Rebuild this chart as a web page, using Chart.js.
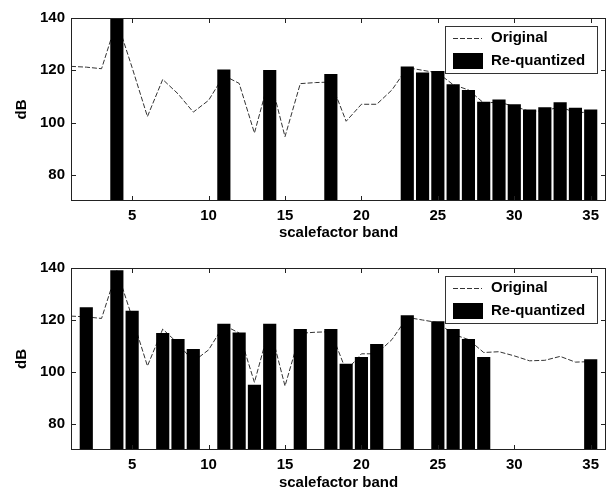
<!DOCTYPE html>
<html>
<head>
<meta charset="utf-8">
<script src="https://cdn.jsdelivr.net/npm/chart.js@4/dist/chart.umd.min.js"></script>
<style>
  body { margin: 0; background: #fff; }
  canvas { display: block; }
</style>
</head>
<body>
<canvas id="topChart" width="613" height="248"></canvas>
<canvas id="bottomChart" width="613" height="248"></canvas>
<script>
// scalefactor bands 1..35
var bands = [1, 2, 3, 4, 5, 6, 7, 8, 9, 10, 11, 12, 13, 14, 15, 16, 17, 18,
             19, 20, 21, 22, 23, 24, 25, 26, 27, 28, 29, 30, 31, 32, 33, 34, 35];

// original level (dB), same curve in both panels
var original = [121.5, 121.2, 120.6, 139, 121, 102.3, 116.5, 111, 104, 108.5, 118, 115,
                96, 117.5, 94.6, 114.9, 115.3, 115.5, 100.5, 107, 107, 112.5, 121, 120,
                119, 114.5, 112.5, 107.5, 107.8, 106.2, 104.3, 104.5, 106, 103.8, 104];

// re-quantized bands, top panel
var topBands = [4, 11, 14, 18, 23, 24, 25, 26, 27, 28, 29, 30, 31, 32, 33, 34, 35];
var topValues = [140, 120.2, 120, 118.5, 121.3, 119, 119.6, 114.5, 112.3, 107.8, 108.7,
                 106.9, 104.9, 105.7, 107.6, 105.5, 104.9];

// re-quantized bands, bottom panel
var bottomBands = [2, 4, 5, 7, 8, 9, 11, 12, 13, 14, 16, 18, 19, 20, 21, 23, 25, 26, 27, 28, 35];
var bottomValues = [124.8, 139, 123.4, 114.9, 112.6, 108.7, 118.4, 115.1, 95, 118.4, 116.4,
                    116.4, 103, 105.6, 110.6, 121.7, 119.4, 116.4, 112.6, 105.6, 104.8];

var xTicks = [5, 10, 15, 20, 25, 30, 35];
var yTicks = [80, 100, 120, 140];

var FONT = "'Liberation Sans', Arial, sans-serif";
Chart.defaults.font.family = FONT;
Chart.defaults.font.size = 15;
Chart.defaults.font.weight = 'bold';
Chart.defaults.color = '#000';

function pairs(xs, ys) {
    return xs.map(function (x, i) { return { x: x, y: ys[i] }; });
}

// matlab style box, inward ticks and legend
var framePlugin = {
    id: 'frame',
    afterDraw: function (chart) {
        var ctx = chart.ctx;
        var a = chart.chartArea;
        var xs = chart.scales.x, ys = chart.scales.y;
        ctx.save();
        ctx.strokeStyle = '#222';
        ctx.lineWidth = 1;
        ctx.strokeRect(a.left + 0.5, a.top + 0.5, a.right - a.left - 1, a.bottom - a.top - 1);
        ctx.beginPath();
        xTicks.forEach(function (v) {
            var px = Math.round(xs.getPixelForValue(v)) + 0.5;
            ctx.moveTo(px, a.bottom); ctx.lineTo(px, a.bottom - 5);
            ctx.moveTo(px, a.top); ctx.lineTo(px, a.top + 5);
        });
        yTicks.forEach(function (v) {
            var py = Math.round(ys.getPixelForValue(v)) + 0.5;
            ctx.moveTo(a.left, py); ctx.lineTo(a.left + 5, py);
            ctx.moveTo(a.right, py); ctx.lineTo(a.right - 5, py);
        });
        ctx.stroke();

        // legend box
        var lx = a.right - 161, ly = a.top + 8, lw = 152, lh = 47;
        ctx.fillStyle = '#fff';
        ctx.fillRect(lx, ly, lw, lh);
        ctx.strokeStyle = '#333';
        ctx.strokeRect(lx + 0.5, ly + 0.5, lw, lh);
        ctx.beginPath();
        ctx.setLineDash([5, 2]);
        ctx.moveTo(lx + 8, ly + 12.5); ctx.lineTo(lx + 37, ly + 12.5);
        ctx.stroke();
        ctx.setLineDash([]);
        ctx.fillStyle = '#000';
        ctx.fillRect(lx + 8, ly + 27, 30, 16);
        ctx.font = 'bold 15px ' + FONT;
        ctx.textBaseline = 'middle';
        ctx.fillText('Original', lx + 46, ly + 12);
        ctx.fillText('Re-quantized', lx + 46, ly + 35);
        ctx.restore();
    }
};

function makeChart(id, barX, barY, padTop, xHeight, titlePad) {
    var ctx = document.getElementById(id).getContext('2d');
    return new Chart(ctx, {
        data: {
            datasets: [{
                type: 'bar',
                label: 'Re-quantized',
                data: pairs(barX, barY),
                backgroundColor: '#000',
                borderWidth: 0,
                barThickness: 12.5,
                order: 0
            }, {
                type: 'line',
                label: 'Original',
                data: pairs(bands, original),
                borderColor: '#333',
                borderWidth: 1,
                borderDash: [5, 2],
                pointRadius: 0,
                tension: 0,
                order: 1
            }]
        },
        options: {
            responsive: false,
            animation: false,
            layout: { padding: { top: padTop, right: 7, left: 0, bottom: 0 } },
            plugins: { legend: { display: false }, tooltip: { enabled: false } },
            scales: {
                x: {
                    type: 'linear',
                    min: 1,
                    max: 36,
                    offset: false,
                    grid: { display: false, drawTicks: false },
                    border: { display: false },
                    afterBuildTicks: function (s) { s.ticks = xTicks.map(function (v) { return { value: v }; }); },
                    afterFit: function (s) { s.height = xHeight; },
                    ticks: { padding: 6, maxRotation: 0 },
                    title: { display: true, text: 'scalefactor band', padding: { top: 0, bottom: titlePad } }
                },
                y: {
                    min: 70,
                    max: 140,
                    grid: { display: false, drawTicks: false },
                    border: { display: false },
                    afterBuildTicks: function (s) { s.ticks = yTicks.map(function (v) { return { value: v }; }); },
                    afterFit: function (s) { s.width = 71; },
                    ticks: { padding: 6 },
                    title: { display: true, text: 'dB', padding: { top: 13, bottom: 0 } }
                }
            }
        },
        plugins: [framePlugin]
    });
}

makeChart('topChart', topBands, topValues, 18, 47, 6);
makeChart('bottomChart', bottomBands, bottomValues, 20, 46, 4);
</script>
</body>
</html>
